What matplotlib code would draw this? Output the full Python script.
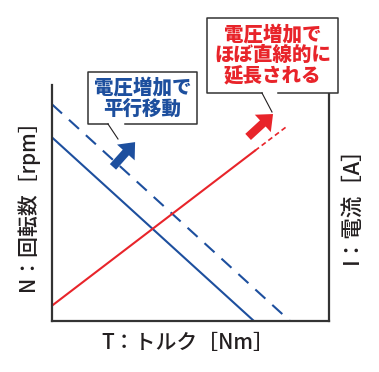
import matplotlib
matplotlib.use("Agg")
import matplotlib.pyplot as plt
from matplotlib.patches import FancyArrowPatch, Rectangle
from matplotlib.lines import Line2D

plt.rcParams['font.family'] = ['Noto Sans CJK JP', 'DejaVu Sans']

# data (arbitrary units, axes 0..10)
n_torque = [0.0, 7.29]          # N vs T, base voltage
n_speed = [7.78, 0.0]
n_torque_hv = [0.0, 8.59]       # N vs T, higher voltage (shifted)
n_speed_hv = [9.18, 0.0]
i_torque = [0.0, 7.33]          # I vs T
i_current = [0.65, 7.22]
i_torque_ext = [7.33, 8.45]     # extension at higher voltage
i_current_ext = [7.22, 8.22]

blue_shift = [(2.2, 6.53), (3.0, 7.58)]
red_shift = [(7.08, 7.8), (7.98, 8.77)]

blue = '#1d4f9e'
red = '#e8242a'
ink = '#231f20'

W, H = 379, 372
fig = plt.figure(figsize=(W / 100, H / 100), dpi=100)
ax = fig.add_axes([52 / W, 1 - 321 / H, 277 / W, 236 / H])
ax.set_xlim(0, 10)
ax.set_ylim(0, 10)
ax.set_xticks([])
ax.set_yticks([])
ax.spines['top'].set_visible(False)
for s in ['left', 'right', 'bottom']:
    ax.spines[s].set_color('#333333')
    ax.spines[s].set_linewidth(1.6)

ax.plot(n_torque, n_speed, color=blue, lw=1.5, solid_capstyle='butt')
ax.plot(n_torque_hv, n_speed_hv, color=blue, lw=1.5, dashes=(6.5, 4.5))
ax.plot(i_torque, i_current, color=red, lw=1.5)
ax.plot(i_torque_ext, i_current_ext, color=red, lw=1.2, dashes=(3, 2))

for (p0, p1), c in [(blue_shift, blue), (red_shift, red)]:
    ax.add_patch(FancyArrowPatch(p0, p1, arrowstyle='simple,head_width=1.7,head_length=1.0,tail_width=0.6',
                                 mutation_scale=10, color=c, lw=0, shrinkA=0, shrinkB=0, clip_on=False))

def fpt(x, y):
    return x / W, 1 - y / H

def callout(x0, y0, x1, y1, gap, tip, lines, color):
    fig.add_artist(Rectangle(fpt(x0, y1), (x1 - x0) / W, (y1 - y0) / H, transform=fig.transFigure,
                             facecolor='white', edgecolor='none', zorder=5))
    xs = [gap[1], x1, x1, x0, x0, gap[0]]
    ys = [y1, y1, y0, y0, y1, y1]
    pts = [fpt(a, b) for a, b in zip(xs, ys)]
    fig.add_artist(Line2D([p[0] for p in pts], [p[1] for p in pts], transform=fig.transFigure,
                          color='#333333', lw=1.1, zorder=6))
    a, b = fpt(gap[0], y1), fpt(*tip)
    fig.add_artist(Line2D([a[0], b[0]], [a[1], b[1]], transform=fig.transFigure,
                          color=ink, lw=0.8, zorder=6))
    cx, cy = fpt((x0 + x1) / 2, (y0 + y1) / 2)
    fig.text(cx, cy, lines, ha='center', va='center', color=color, fontsize=14,
             fontweight='heavy', linespacing=1.12, zorder=7)

callout(88, 72, 197, 124, (108, 125), (118, 139), '電圧増加で\n平行移動', blue)
callout(207, 18, 338, 93, (262, 278), (272, 112), '電圧増加で\nほぼ直線的に\n延長される', red)

fig.text(*fpt(188, 343), 'T：トルク［Nm］', ha='center', va='center', fontsize=15, color=ink, fontweight='medium')
fig.text(*fpt(28, 200), 'N：回転数［rpm］', ha='center', va='center', fontsize=15, color=ink,
         rotation=90, fontweight='medium')
fig.text(*fpt(352, 200), 'I：電流［A］', ha='center', va='center', fontsize=15.5, color=ink,
         rotation=90, fontweight='medium')

fig.savefig('out.png', dpi=100)
